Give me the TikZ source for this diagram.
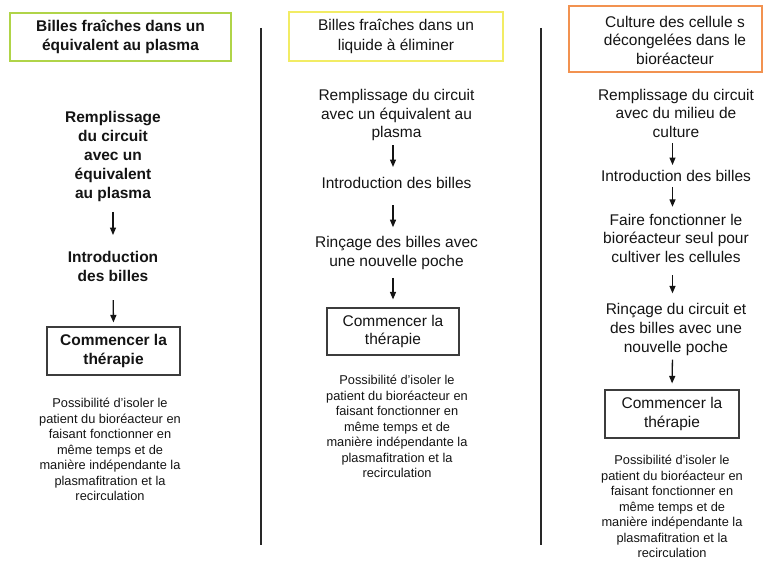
\documentclass[tikz,border=0pt]{standalone}
\usepackage{fontspec}
\setmainfont{Liberation Sans}
\usetikzlibrary{arrows.meta}
\definecolor{txt}{RGB}{20,20,20}
\definecolor{greenb}{RGB}{176,212,72}
\definecolor{yellowb}{RGB}{242,236,100}
\definecolor{orangeb}{RGB}{242,146,80}
\definecolor{boxb}{RGB}{60,60,60}
\definecolor{sep}{RGB}{40,40,40}
\tikzset{
  main/.style={inner sep=0pt, align=center, text=txt, font=\fontsize{15.5}{18.7}\selectfont},
  mainb/.style={main, font=\fontsize{15.5}{18.9}\selectfont\bfseries},
  note/.style={inner sep=0pt, align=center, text=txt, font=\fontsize{12.8}{15.5}\selectfont},
  titlebox/.style={draw, line width=1.2pt, inner sep=0pt, align=center, text=txt},
  startbox/.style={draw=boxb, line width=1.1pt, inner sep=0pt, align=center, text=txt},
  arr/.style={-{Triangle[length=7.5pt,width=6pt]}, line width=1.3pt, draw=txt},
  vsep/.style={line width=1.2pt, draw=sep}
}
\begin{document}
\begin{tikzpicture}[x=1pt,y=-1pt]
\useasboundingbox (0,0) rectangle (763,561);

% separators
\coordinate (s1a) at (261,28); \coordinate (s1b) at (261,545);
\coordinate (s2a) at (541,28); \coordinate (s2b) at (541,545);
\draw[vsep] (s1a) -- (s1b);
\draw[vsep] (s2a) -- (s2b);

% ---------- column 1 ----------
\node[titlebox, draw=greenb, minimum width=221pt, minimum height=48pt,
      font=\fontsize{15.5}{19}\selectfont\bfseries] (t1) at (120.5,37)
  {Billes fraîches dans un\\équivalent au plasma};
\node[mainb] (r1) at (113,156.6) {Remplissage\\du circuit\\avec un\\équivalent\\au plasma};
\node[mainb] (i1) at (113,266.4) {Introduction\\des billes};
\node[startbox, minimum width=133pt, minimum height=48pt,
      font=\fontsize{15.5}{19}\selectfont\bfseries] (c1) at (113.5,351)
  {Commencer la\\thérapie};
\node[note] (n1) at (110,449.5) {Possibilité d’isoler le\\patient du bioréacteur en\\faisant fonctionner en\\même temps et de\\manière indépendante la\\plasmafitration et la\\recirculation};
\draw[arr, shorten <=10pt, shorten >=16pt] (r1.south) -- (i1.north);
\draw[arr, shorten <=18.5pt, shorten >=4pt] (i1.south) -- (c1.north);

% ---------- column 2 ----------
\node[titlebox, draw=yellowb, minimum width=214pt, minimum height=49pt,
      font=\fontsize{15.5}{19.5}\selectfont] (t2) at (396,36.5)
  {Billes fraîches dans un\\liquide à éliminer};
\node[main] (r2) at (396.5,115.1) {Remplissage du circuit\\avec un équivalent au\\plasma};
\node[main] (i2) at (396.5,182.9) {Introduction des billes};
\node[main] (ri2) at (396.5,253) {Rinçage des billes avec\\une nouvelle poche};
\node[startbox, minimum width=132pt, minimum height=47pt,
      font=\fontsize{15.5}{18.5}\selectfont] (c2) at (393,331.5)
  {Commencer la\\thérapie};
\node[note] (n2) at (397,426.7) {Possibilité d'isoler le\\patient du bioréacteur en\\faisant fonctionner en\\même temps et de\\manière indépendante la\\plasmafitration et la\\recirculation};
\draw[arr, shorten <=4pt, shorten >=10pt] ([xshift=-3.5pt]r2.south) -- ([xshift=-3.5pt]i2.north);
\draw[arr, shorten <=16.5pt, shorten >=9pt] ([xshift=-3.5pt]i2.south) -- ([xshift=-3.5pt]ri2.north);
\draw[arr, shorten <=8pt, shorten >=8pt] ([xshift=-3.5pt]ri2.south) -- (c2.north);

% ---------- column 3 ----------
\node[titlebox, draw=orangeb, minimum width=193pt, minimum height=66pt] (t3box) at (665.5,39) {};
\node[main] (t3) at (675,40.4) {Culture des cellule s\\décongelées dans le\\bioréacteur};
\node[main] (r3) at (676,113.4) {Remplissage du circuit\\avec du milieu de\\culture};
\node[main] (i3) at (676,175.9) {Introduction des billes};
\node[main] (f3) at (676,238.4) {Faire fonctionner le\\bioréacteur seul pour\\cultiver les cellules};
\node[main] (rc3) at (676,329.5) {Rinçage du circuit et\\des billes avec une\\nouvelle poche};
\node[startbox, minimum width=134pt, minimum height=48pt,
      font=\fontsize{15.5}{18.5}\selectfont] (c3) at (672,414)
  {Commencer la\\thérapie};
\node[note] (n3) at (672,506.5) {Possibilité d’isoler le\\patient du bioréacteur en\\faisant fonctionner en\\même temps et de\\manière indépendante la\\plasmafitration et la\\recirculation};
\draw[arr, shorten <=5.5pt, shorten >=5pt] ([xshift=-3.5pt]r3.south) -- ([xshift=-3.5pt]i3.north);
\draw[arr, shorten <=5.5pt, shorten >=7pt] ([xshift=-3.5pt]i3.south) -- ([xshift=-3.5pt]f3.north);
\draw[arr, shorten <=12.5pt, shorten >=10pt] ([xshift=-3.5pt]f3.south) -- ([xshift=-3.5pt]rc3.north);
\draw[arr, shorten <=4pt, shorten >=6pt] ([xshift=-3.5pt]rc3.south) -- (c3.north);
\end{tikzpicture}
\end{document}
